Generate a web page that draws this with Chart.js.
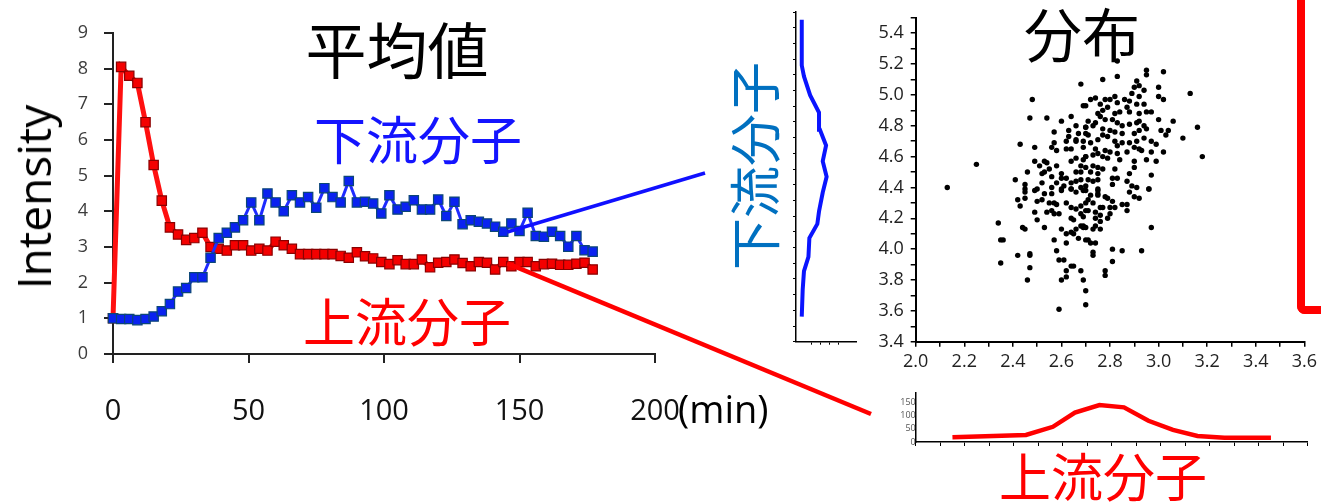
<!DOCTYPE html>
<html>
<head>
<meta charset="utf-8">
<script src="https://cdn.jsdelivr.net/npm/chart.js@4/dist/chart.umd.min.js"></script>
<style>
  html, body { margin: 0; padding: 0; background: #fff; }
  body { width: 1321px; height: 502px; position: relative; overflow: hidden; }
  canvas { position: absolute; }
  .lbl { position: absolute; white-space: nowrap; line-height: 1; transform: translate(-50%, -50%);
         font-family: "Noto Sans CJK JP", sans-serif; }
</style>
</head>
<body>
<canvas id="timeChart" width="900" height="440" style="left:0;top:0;width:900px;height:440px"></canvas>
<canvas id="downHist" width="110" height="360" style="left:760px;top:0;width:110px;height:360px"></canvas>
<canvas id="scatterChart" width="482" height="400" style="left:839px;top:0;width:482px;height:400px"></canvas>
<canvas id="upHist" width="441" height="80" style="left:880px;top:380px;width:441px;height:80px"></canvas>

<div class="lbl" style="left:397px;top:47px;font-size:61px;color:#000">平均値</div>
<div class="lbl" style="left:418px;top:138px;font-size:52px;color:#1414ff">下流分子</div>
<div class="lbl" style="left:407px;top:320px;font-size:52px;color:#ff0000">上流分子</div>
<div class="lbl" style="left:33px;top:197px;font-size:46px;color:#000;font-family:'Open Sans',sans-serif;transform:translate(-50%,-50%) rotate(-90deg)">Intensity</div>
<div style="position:absolute;left:678px;top:389px;font-size:38px;line-height:1;font-family:'Open Sans',sans-serif;color:#000">(min)</div>
<div class="lbl" style="left:753px;top:166px;font-size:52px;color:#0070c0;transform:translate(-50%,-50%) rotate(-90deg)">下流分子</div>
<div class="lbl" style="left:1082px;top:32px;font-size:58px;color:#000">分布</div>
<div class="lbl" style="left:1103px;top:475px;font-size:52px;color:#ff0000">上流分子</div>
<div style="position:absolute;left:1297px;top:-20px;width:60px;height:334px;box-sizing:border-box;border-left:8px solid #ff0000;border-bottom:8px solid #ff0000;border-bottom-left-radius:8px"></div>

<script>
// time points (min)
const timeMin = [0, 3, 6, 9, 12, 15, 18, 21, 24, 27, 30, 33, 36, 39, 42, 45, 48, 51, 54, 57,
  60, 63, 66, 69, 72, 75, 78, 81, 84, 87, 90, 93, 96, 99, 102, 105, 108, 111, 114, 117,
  120, 123, 126, 129, 132, 135, 138, 141, 144, 147, 150, 153, 156, 159, 162, 165, 168, 171, 174, 177];

// mean intensity, downstream molecule (blue)
const downstreamMean = [1.0, 0.98, 0.98, 0.95, 0.98, 1.05, 1.2, 1.4, 1.75, 1.85,
  2.15, 2.15, 2.7, 3.25, 3.4, 3.55, 3.75, 4.25, 3.75, 4.5,
  4.25, 4.0, 4.45, 4.25, 4.4, 4.1, 4.65, 4.4, 4.25, 4.85,
  4.25, 4.27, 4.22, 3.94, 4.45, 4.05, 4.13, 4.31, 4.05, 4.05,
  4.33, 3.87, 4.27, 3.64, 3.75, 3.71, 3.66, 3.57, 3.43, 3.66,
  3.45, 3.96, 3.31, 3.29, 3.43, 3.31, 3.01, 3.31, 2.91, 2.87];

// mean intensity, upstream molecule (red)
const upstreamMean = [1.0, 8.05, 7.8, 7.6, 6.5, 5.3, 4.3, 3.55, 3.35, 3.2,
  3.25, 3.4, 3.0, 2.95, 2.9, 3.05, 3.05, 2.9, 2.95, 2.9,
  3.15, 3.05, 2.95, 2.8, 2.8, 2.8, 2.8, 2.8, 2.75, 2.7,
  2.85, 2.74, 2.68, 2.58, 2.52, 2.63, 2.52, 2.52, 2.65, 2.43,
  2.56, 2.58, 2.65, 2.55, 2.46, 2.58, 2.56, 2.37, 2.58, 2.46,
  2.58, 2.58, 2.46, 2.52, 2.53, 2.5, 2.5, 2.53, 2.56, 2.37];

// scatter: upstream (x) vs downstream (y)
const scatterX = [2.68, 2.48, 2.69, 2.47, 2.54, 2.60, 2.64, 2.66, 2.70, 2.57, 2.63, 2.67, 2.43, 2.49, 2.56, 2.57, 2.58, 2.62, 2.62, 2.64,
  2.66, 2.69, 2.70, 2.25, 2.49, 2.53, 2.54, 2.51, 2.58, 2.64, 2.66, 2.69, 2.70, 2.68, 2.46, 2.52, 2.53, 2.55, 2.56, 2.60,
  2.62, 2.66, 2.68, 2.70, 2.41, 2.45, 2.52, 2.58, 2.60, 2.64, 2.66, 2.68, 2.13, 2.45, 2.50, 2.56, 2.60, 2.64, 2.68, 2.70,
  2.61, 2.63, 2.66,
  2.83, 2.95, 2.95, 3.02, 2.77, 2.83, 2.91, 2.92, 2.90, 2.94, 3.00, 2.89, 2.92, 3.00, 3.02, 3.13, 2.72, 2.74, 2.78, 2.80,
  2.82, 2.83, 2.86, 2.88, 2.91, 2.94, 2.70, 2.76, 2.77, 2.79, 2.82, 2.84, 2.87, 2.88, 2.95, 2.97, 2.92, 3.00, 3.06, 2.75,
  2.76, 2.71, 2.74, 2.78, 2.81, 2.83, 2.85, 2.88, 2.91, 2.92, 2.94, 2.70, 2.73, 2.77, 2.80, 2.82, 2.85, 2.90, 2.92, 2.95,
  3.01, 3.04, 3.16, 3.03, 3.10, 2.71, 2.75, 2.77, 2.79, 2.82, 2.85, 2.88, 2.91, 2.94, 2.97, 2.99, 2.69, 2.72, 2.74, 2.75,
  2.78, 2.80, 2.83, 2.83, 2.87, 2.90, 2.92, 2.93, 2.97, 3.02, 3.18, 2.70, 2.73, 2.77, 2.79, 2.84, 2.90, 2.95, 2.99, 2.73,
  2.75, 2.77, 2.82, 2.90, 2.75, 2.72, 2.88, 2.97, 2.71, 2.73, 2.75, 2.81, 2.83, 2.87, 2.89, 2.75, 2.81, 2.91, 2.96,
  2.45, 2.49, 2.53, 2.56, 2.60, 2.64, 2.66, 2.69, 2.42, 2.45, 2.50, 2.52, 2.55, 2.57, 2.58, 2.62, 2.64, 2.66, 2.68, 2.70,
  2.43, 2.49, 2.50, 2.54, 2.56, 2.57, 2.59, 2.64, 2.65, 2.68, 2.69, 2.70, 2.34, 2.44, 2.45, 2.53, 2.60, 2.62, 2.64, 2.66,
  2.68, 2.69, 2.65, 2.70, 2.67, 2.57, 2.62, 2.35, 2.36, 2.58, 2.42, 2.47, 2.47, 2.35, 2.59, 2.61, 2.47, 2.62, 2.64, 2.65,
  2.68, 2.46, 2.60, 2.62, 2.69, 2.70, 2.70, 2.59,
  2.70, 2.75, 2.75, 2.72, 2.71, 2.73, 2.75, 2.78, 2.79, 2.81, 2.88, 2.90, 2.92, 2.96, 2.85, 2.87, 2.87, 2.76, 2.77, 2.80,
  2.82, 2.71, 2.74, 2.76, 2.74, 2.80, 2.79, 2.76, 2.69, 2.70, 2.73, 2.74, 2.76, 2.97, 2.71, 2.72, 2.74, 2.81, 2.85, 2.93,
  2.73, 2.73, 2.81, 2.78, 2.78];
const scatterY = [5.07, 4.97, 4.93, 4.85, 4.85, 4.83, 4.86, 4.80, 4.79, 4.76, 4.77, 4.75, 4.68, 4.66, 4.66, 4.69, 4.64, 4.70, 4.65, 4.65,
  4.71, 4.70, 4.75, 4.55, 4.57, 4.57, 4.56, 4.54, 4.54, 4.57, 4.59, 4.58, 4.60, 4.54, 4.50, 4.49, 4.50, 4.52, 4.47, 4.49,
  4.46, 4.50, 4.50, 4.53, 4.45, 4.42, 4.43, 4.43, 4.46, 4.43, 4.44, 4.45, 4.40, 4.39, 4.39, 4.40, 4.39, 4.39, 4.40, 4.41,
  4.41, 4.73, 4.70,
  5.22, 5.16, 5.13, 5.15, 5.10, 5.12, 5.09, 5.06, 5.05, 5.03, 5.05, 5.01, 4.99, 4.99, 4.97, 5.01, 4.97, 4.98, 4.97, 4.97,
  4.99, 4.95, 4.97, 4.96, 4.94, 4.94, 4.93, 4.94, 4.90, 4.92, 4.88, 4.89, 4.92, 4.89, 4.89, 4.89, 4.88, 4.84, 4.83, 4.88,
  4.86, 4.83, 4.82, 4.84, 4.84, 4.82, 4.80, 4.81, 4.82, 4.83, 4.80, 4.79, 4.80, 4.78, 4.77, 4.76, 4.75, 4.75, 4.77, 4.78,
  4.77, 4.77, 4.79, 4.74, 4.72, 4.74, 4.71, 4.74, 4.73, 4.70, 4.69, 4.69, 4.70, 4.72, 4.70, 4.68, 4.66, 4.69, 4.65, 4.62,
  4.64, 4.63, 4.67, 4.62, 4.63, 4.66, 4.65, 4.64, 4.63, 4.63, 4.60, 4.60, 4.61, 4.60, 4.59, 4.58, 4.57, 4.58, 4.57, 4.54,
  4.53, 4.52, 4.52, 4.53, 4.49, 4.50, 4.49, 4.48, 4.45, 4.44, 4.45, 4.46, 4.46, 4.44, 4.41, 4.39, 4.42, 4.40, 4.39,
  4.37, 4.38, 4.36, 4.36, 4.38, 4.39, 4.37, 4.38, 4.32, 4.33, 4.31, 4.32, 4.30, 4.30, 4.29, 4.30, 4.27, 4.26, 4.28, 4.30,
  4.28, 4.24, 4.19, 4.24, 4.25, 4.23, 4.23, 4.20, 4.19, 4.23, 4.21, 4.25, 4.17, 4.14, 4.13, 4.14, 4.13, 4.10, 4.11, 4.13,
  4.15, 4.14, 4.10, 4.06, 4.07, 4.06, 4.04, 4.06, 4.06, 3.99, 3.96, 3.97, 3.96, 3.91, 3.93, 3.93, 3.88, 3.86, 3.89, 3.89,
  3.86, 3.80, 3.80, 3.82, 3.80, 3.73, 3.64, 3.61,
  4.38, 4.38, 4.36, 4.35, 4.32, 4.30, 4.35, 4.34, 4.33, 4.31, 4.37, 4.34, 4.33, 4.39, 4.29, 4.29, 4.25, 4.27, 4.27, 4.27,
  4.27, 4.25, 4.24, 4.22, 4.20, 4.23, 4.20, 4.18, 4.15, 4.14, 4.13, 4.15, 4.13, 4.14, 4.06, 4.04, 4.04, 4.00, 3.99, 3.99,
  3.98, 3.96, 3.92, 3.86, 3.83];

// histogram of downstream values (vertical, blue)
const downHistValue = [3.56, 3.73, 3.85, 3.94, 4.06, 4.15, 4.23, 4.35, 4.45, 4.55, 4.65, 4.75, 4.86, 4.97, 5.09, 5.16, 5.45];
const downHistCount = [0, 5, 12, 36, 41, 84, 93, 113, 134, 113, 131, 98, 93, 45, 12, 0, 0];

// histogram of upstream values (horizontal, red)
const upHistValue = [2.15, 2.45, 2.56, 2.65, 2.75, 2.85, 2.95, 3.05, 3.15, 3.26, 3.45];
const upHistCount = [18, 27, 58, 112, 141, 132, 81, 46, 23, 16, 16];

const meanTicks = [0, 1, 2, 3, 4, 5, 6, 7, 8, 9];

Chart.defaults.font.family = "'Open Sans', sans-serif";
Chart.defaults.animation = false;
Chart.defaults.plugins.legend.display = false;
Chart.defaults.plugins.tooltip.enabled = false;

// connector lines from the time chart to the two histograms
const guideLines = {
  id: 'guideLines',
  afterDatasetsDraw(chart) {
    const { ctx, scales } = chart;
    const lines = [
      { t: 145.5, v: 3.42, to: [705, 173], color: '#1010ff', w: 3.5 },
      { t: 145.5, v: 2.54, to: [871, 414], color: '#ff0000', w: 4.5 },
    ];
    ctx.save();
    lines.forEach(l => {
      ctx.beginPath();
      ctx.moveTo(scales.x.getPixelForValue(l.t), scales.y.getPixelForValue(l.v));
      ctx.lineTo(l.to[0], l.to[1]);
      ctx.strokeStyle = l.color;
      ctx.lineWidth = l.w;
      ctx.stroke();
    });
    ctx.restore();
  }
};

const tenths = v => Math.round(v * 10);

new Chart(document.getElementById('timeChart'), {
  type: 'line',
  data: {
    datasets: [
      {
        label: '下流分子',
        data: timeMin.map((t, i) => ({ x: t, y: downstreamMean[i] })),
        borderColor: '#1f2bff', borderWidth: 3,
        backgroundColor: '#0a22f0', pointBorderColor: '#0b4677', pointBorderWidth: 1.2,
        pointStyle: 'rect', pointRadius: 6.6, clip: false,
      },
      {
        label: '上流分子',
        data: timeMin.map((t, i) => ({ x: t, y: upstreamMean[i] })),
        borderColor: '#ff1010', borderWidth: 5,
        backgroundColor: '#f40000', pointBorderColor: '#8a0000', pointBorderWidth: 1.2,
        pointStyle: 'rect', pointRadius: 6.6, clip: false,
      },
    ],
  },
  options: {
    responsive: false,
    layout: { padding: { left: 0, top: 33, right: 245, bottom: 0 } },
    scales: {
      x: {
        type: 'linear', min: 0, max: 200,
        ticks: { stepSize: 50, padding: 31, color: '#111', font: { size: 29 } },
        grid: { drawOnChartArea: false, tickLength: 9, color: '#222', lineWidth: 2 },
        border: { color: '#222', width: 2 },
        afterFit(s) { s.height = 86; },
      },
      y: {
        min: 0, max: 9,
        afterBuildTicks(s) { s.ticks = meanTicks.map(v => ({ value: v })); },
        ticks: { padding: 16, color: '#3c3c3c', font: { size: 18 } },
        grid: { drawOnChartArea: false, tickLength: 9, color: '#222', lineWidth: 2 },
        border: { color: '#222', width: 2 },
        afterFit(s) { s.width = 113; },
      },
    },
  },
  plugins: [guideLines],
});

new Chart(document.getElementById('downHist'), {
  type: 'scatter',
  data: {
    datasets: [{
      data: downHistValue.map((v, i) => ({ x: downHistCount[i], y: v })),
      showLine: true, borderColor: '#0a14ff', borderWidth: 4, pointRadius: 0, clip: false,
    }],
  },
  options: {
    responsive: false,
    layout: { padding: { left: 0, top: 12, right: 13.3, bottom: 0 } },
    scales: {
      x: {
        min: -31, max: 296,
        afterBuildTicks(s) { s.ticks = s.ticks.filter(t => t.value >= 0 && t.value <= 250 && t.value % 50 === 0); },
        ticks: { stepSize: 50, callback: () => '' },
        grid: { drawOnChartArea: false, tickLength: 3, color: '#000' },
        border: { color: '#000', width: 1.5 },
        afterFit(s) { s.height = 18.3; },
      },
      y: {
        min: 3.4, max: 5.5,
        ticks: { stepSize: 0.1, autoSkip: false, callback: () => '' },
        grid: { drawOnChartArea: false, tickLength: 3, color: '#000' },
        border: { color: '#000', width: 1.5 },
        afterFit(s) { s.width = 36; },
      },
    },
  },
});

new Chart(document.getElementById('scatterChart'), {
  type: 'scatter',
  data: {
    datasets: [{
      data: scatterX.map((x, i) => ({ x: x, y: scatterY[i] })),
      pointRadius: 2.7, backgroundColor: '#000', borderWidth: 0,
    }],
  },
  options: {
    responsive: false,
    layout: { padding: { left: 0, top: 12, right: 14, bottom: 0 } },
    scales: {
      x: {
        min: 2.0, max: 3.6,
        ticks: {
          stepSize: 0.1, autoSkip: false, maxRotation: 0, padding: 4, color: '#222', font: { size: 18 },
          callback: v => tenths(v) % 2 === 0 ? (tenths(v) / 10).toFixed(1) : '',
        },
        grid: { drawOnChartArea: false, tickLength: 5, color: '#000', lineWidth: 1.5 },
        border: { color: '#000', width: 2 },
        afterFit(s) { s.height = 58.3; },
      },
      y: {
        min: 3.4, max: 5.5,
        ticks: {
          stepSize: 0.1, autoSkip: false, padding: 7, color: '#222', font: { size: 18 },
          callback: v => tenths(v) % 2 === 0 ? (tenths(v) / 10).toFixed(1) : '',
        },
        grid: { drawOnChartArea: false, tickLength: 5, color: '#000', lineWidth: 1.5 },
        border: { color: '#000', width: 2 },
        afterFit(s) { s.width = 76.7; },
      },
    },
  },
});

new Chart(document.getElementById('upHist'), {
  type: 'scatter',
  data: {
    datasets: [{
      data: upHistValue.map((v, i) => ({ x: v, y: upHistCount[i] })),
      showLine: true, borderColor: '#ff0000', borderWidth: 4.5, pointRadius: 0, clip: false,
    }],
  },
  options: {
    responsive: false,
    layout: { padding: { left: 0, top: 12.7, right: 13.3, bottom: 0 } },
    scales: {
      x: {
        min: 2.0, max: 3.6,
        ticks: { stepSize: 0.1, autoSkip: false, callback: () => '' },
        grid: { drawOnChartArea: false, tickLength: 4, color: '#000' },
        border: { color: '#000', width: 1.5 },
        afterFit(s) { s.height = 18; },
      },
      y: {
        min: 0, max: 188,
        afterBuildTicks(s) { s.ticks = s.ticks.filter(t => t.value % 50 === 0); },
        ticks: { stepSize: 50, padding: 0, color: '#555', font: { size: 9 } },
        grid: { drawOnChartArea: false, drawTicks: false, tickLength: 0 },
        border: { color: '#000', width: 1.5 },
        afterFit(s) { s.width = 35.7; },
      },
    },
  },
});
</script>
</body>
</html>
